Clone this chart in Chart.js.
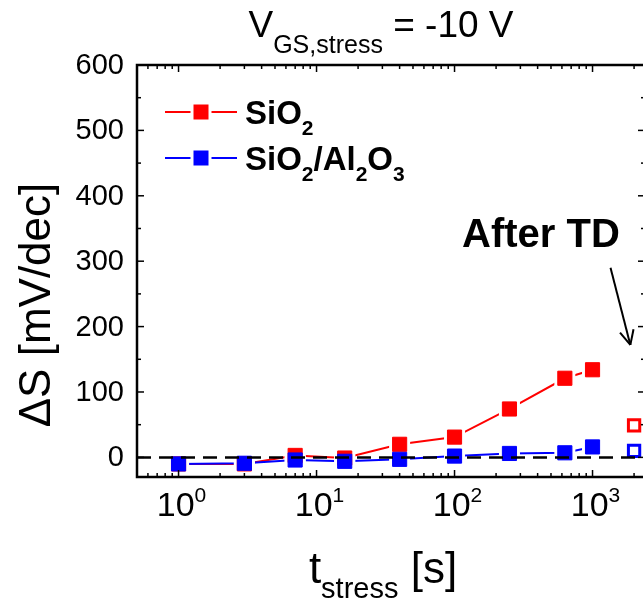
<!DOCTYPE html>
<html>
<head>
<meta charset="utf-8">
<script src="https://cdn.jsdelivr.net/npm/chart.js@4.4.0/dist/chart.umd.min.js"></script>
<style>
  html, body { margin: 0; padding: 0; background: #fff; overflow: hidden; }
  canvas { display: block; }
</style>
</head>
<body>
<canvas id="chart" width="660" height="599"></canvas>
<script>
// stress times (s) and swing shift (mV/dec)
const stressTimes = [1, 3, 7, 16, 40, 100, 250, 630, 1000];
const sio2Shift = [-10, -10, 3, -1, 20, 31, 74, 121, 134];
const sio2Al2o3Shift = [-10, -9, -4, -6, -3, 2, 6, 7, 16];
// after thermal detrapping (open symbols)
const afterTdTime = [2000];
const sio2AfterTd = [49];
const sio2Al2o3AfterTd = [10];
// axes
const yTicks = [0, 100, 200, 300, 400, 500, 600];
const xDecades = [0, 1, 2, 3];
const X_MIN = 0.5, X_MAX = 2400, Y_MIN = -30, Y_MAX = 600;

const FONT = '"Liberation Sans", Arial, sans-serif';
const RED = '#ff0000', BLUE = '#0000ff';
const MARK = 15;  // symbol size in px
const GAP = 3;    // white gap between line and symbol (Origin style)

const toPoints = (xs, ys) => xs.map((x, i) => ({ x: x, y: ys[i] }));

// draw text made of normal / sub / sup pieces
function richText(ctx, parts, x, y, o) {
  const fontFor = k => (o.bold ? 'bold ' : '') + (k ? o.small : o.size) + 'px ' + FONT;
  let w = 0;
  parts.forEach(([t, k]) => { ctx.font = fontFor(k); w += ctx.measureText(t).width; });
  let cx = o.align === 'center' ? x - w / 2 : (o.align === 'right' ? x - w : x);
  ctx.textAlign = 'left';
  ctx.textBaseline = 'alphabetic';
  ctx.fillStyle = '#000';
  parts.forEach(([t, k]) => {
    ctx.font = fontFor(k);
    const dy = k === 'sub' ? o.subDy : (k === 'sup' ? -o.supDy : 0);
    ctx.fillText(t, cx, y + dy);
    cx += ctx.measureText(t).width;
  });
}

// white knock-outs under the filled symbols so lines stop short of them
const lineGaps = {
  id: 'lineGaps',
  beforeDatasetDraw(chart, args) {
    if (chart.data.datasets[args.index].label !== 'SiO2') return;
    const ctx = chart.ctx;
    const a = chart.chartArea;
    ctx.save();
    ctx.beginPath();
    ctx.rect(a.left, a.top, a.right - a.left, a.bottom - a.top);
    ctx.clip();
    ctx.fillStyle = '#fff';
    const s = MARK + 2 * GAP;
    chart.data.datasets.forEach((ds, i) => {
      if (ds.label !== 'SiO2' && ds.label !== 'SiO2/Al2O3') return;
      chart.getDatasetMeta(i).data.forEach(p => ctx.fillRect(p.x - s / 2, p.y - s / 2, s, s));
    });
    ctx.restore();
  }
};

const decor = {
  id: 'decor',
  afterDraw(chart) {
    const ctx = chart.ctx;
    const a = chart.chartArea;
    const xs = chart.scales.x, ys = chart.scales.y;
    ctx.save();

    // frame
    ctx.strokeStyle = '#000';
    ctx.lineWidth = 2.5;
    ctx.strokeRect(a.left, a.top, a.right - a.left, a.bottom - a.top);

    // inward ticks
    ctx.lineWidth = 1.5;
    const seg = (x1, y1, x2, y2) => { ctx.beginPath(); ctx.moveTo(x1, y1); ctx.lineTo(x2, y2); ctx.stroke(); };
    for (let v = 0; v <= Y_MAX; v += 50) {
      const py = ys.getPixelForValue(v);
      const len = v % 100 === 0 ? 7 : 4;
      seg(a.left, py, a.left + len, py);
      seg(a.right, py, a.right - len, py);
    }
    for (let d = -1; d <= 3; d++) {
      for (let m = 1; m <= 9; m++) {
        const v = m * Math.pow(10, d);
        if (v < X_MIN || v > X_MAX) continue;
        const px = xs.getPixelForValue(v);
        const len = m === 1 ? 7 : 4;
        seg(px, a.bottom, px, a.bottom - len);
        seg(px, a.top, px, a.top + len);
      }
    }

    // y tick labels
    ctx.fillStyle = '#000';
    ctx.font = '29px ' + FONT;
    ctx.textAlign = 'right';
    ctx.textBaseline = 'middle';
    yTicks.forEach(v => ctx.fillText(String(v), a.left - 13, ys.getPixelForValue(v) + 1));

    // x tick labels 10^n
    xDecades.forEach(d => {
      richText(ctx, [['10', ''], [String(d), 'sup']], xs.getPixelForValue(Math.pow(10, d)) + 3, a.bottom + 39,
        { size: 34, small: 21, supDy: 14, align: 'center' });
    });

    // axis titles
    richText(ctx, [['t', ''], ['stress', 'sub'], [' [s]', '']], 383, 583,
      { size: 44, small: 29, subDy: 15, align: 'center' });
    ctx.save();
    ctx.translate(50, 305);
    ctx.rotate(-Math.PI / 2);
    richText(ctx, [['\u0394S [mV/dec]', '']], 0, 0, { size: 44, align: 'center' });
    ctx.restore();

    // title
    richText(ctx, [['V', ''], ['GS,stress', 'sub'], [' = -10 V', '']], 381, 37,
      { size: 37, small: 25, subDy: 16, align: 'center' });

    // legend
    const legend = [
      { color: RED, y: 112, parts: [['SiO', ''], ['2', 'sub']] },
      { color: BLUE, y: 158, parts: [['SiO', ''], ['2', 'sub'], ['/Al', ''], ['2', 'sub'], ['O', ''], ['3', 'sub']] }
    ];
    legend.forEach(e => {
      const cx = a.left + 64;
      ctx.strokeStyle = e.color;
      ctx.lineWidth = 2;
      seg(a.left + 28, e.y, a.left + 100, e.y);
      ctx.fillStyle = '#fff';
      ctx.fillRect(cx - MARK / 2 - GAP, e.y - MARK / 2 - GAP, MARK + 2 * GAP, MARK + 2 * GAP);
      ctx.fillStyle = e.color;
      ctx.fillRect(cx - MARK / 2, e.y - MARK / 2, MARK, MARK);
      richText(ctx, e.parts, a.left + 108, e.y + 12, { size: 33, small: 21, subDy: 11, bold: true });
    });

    // annotation text + arrow
    richText(ctx, [['After TD', '']], 462, 247, { size: 40, bold: true });
    const p0 = { x: xs.getPixelForValue(1350), y: ys.getPixelForValue(290) };
    const p1 = { x: xs.getPixelForValue(1880), y: ys.getPixelForValue(172) };
    ctx.strokeStyle = '#000';
    ctx.lineWidth = 2;
    seg(p0.x, p0.y, p1.x, p1.y);
    const ang = Math.atan2(p1.y - p0.y, p1.x - p0.x);
    [-0.45, 0.45].forEach(da => {
      seg(p1.x, p1.y, p1.x - 16 * Math.cos(ang + da), p1.y - 16 * Math.sin(ang + da));
    });

    ctx.restore();
  }
};

const filled = (label, ys, color, order) => ({
  label: label,
  data: toPoints(stressTimes, ys),
  showLine: false, borderColor: color, backgroundColor: color,
  pointStyle: 'rect', pointRadius: 10, pointBorderWidth: 1,
  order: order
});
const line = (label, ys, color, order) => ({
  label: label,
  data: toPoints(stressTimes, ys),
  borderColor: color, borderWidth: 2, pointRadius: 0,
  order: order
});
const open = (label, ys, color) => ({
  label: label,
  data: toPoints(afterTdTime, ys),
  showLine: false, borderColor: color, backgroundColor: '#fff',
  pointStyle: 'rect', pointRadius: 8, pointBorderWidth: 3,
  order: 1
});

new Chart(document.getElementById('chart'), {
  type: 'line',
  data: {
    datasets: [
      {
        label: 'zero',
        data: [{ x: X_MIN, y: 0 }, { x: X_MAX, y: 0 }],
        borderColor: '#000', borderWidth: 2.5, borderDash: [14, 8],
        pointRadius: 0,
        order: 0
      },
      filled('SiO2/Al2O3', sio2Al2o3Shift, BLUE, 1),
      filled('SiO2', sio2Shift, RED, 2),
      open('SiO2/Al2O3 after TD', sio2Al2o3AfterTd, BLUE),
      open('SiO2 after TD', sio2AfterTd, RED),
      line('SiO2/Al2O3 line', sio2Al2o3Shift, BLUE, 3),
      line('SiO2 line', sio2Shift, RED, 4)
    ]
  },
  options: {
    responsive: false,
    animation: false,
    layout: { padding: { left: 137, top: 65, right: 15, bottom: 122 } },
    plugins: { legend: { display: false }, tooltip: { enabled: false } },
    scales: {
      x: { type: 'logarithmic', min: X_MIN, max: X_MAX, display: false },
      y: { type: 'linear', min: Y_MIN, max: Y_MAX, display: false }
    }
  },
  plugins: [lineGaps, decor]
});
</script>
</body>
</html>
